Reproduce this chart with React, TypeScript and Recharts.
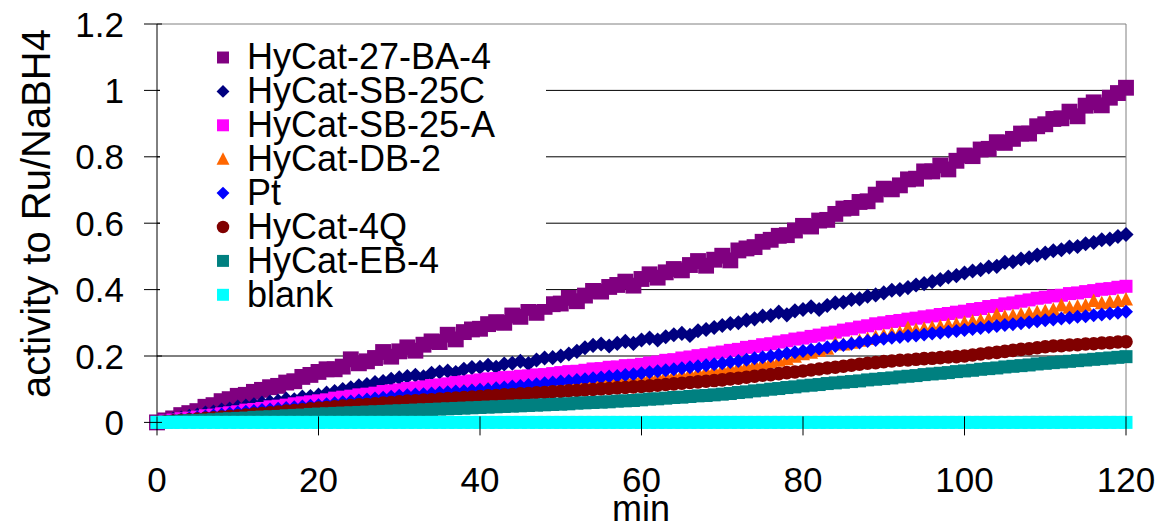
import React from 'react';
import { ScatterChart, Scatter, XAxis, YAxis, CartesianGrid, ReferenceLine } from 'recharts';

const minutes: number[] = Array.from({ length: 121 }, (_, i) => i);

const seriesNames = ['HyCat-27-BA-4', 'HyCat-SB-25C', 'HyCat-SB-25-A', 'HyCat-DB-2', 'Pt', 'HyCat-4Q', 'HyCat-EB-4', 'blank'];
const seriesColors = ['#800080', '#000080', '#FF00FF', '#FF6600', '#0000FF', '#800000', '#008080', '#00FFFF'];
const seriesMarkers = ['square', 'diamond', 'square', 'triangle', 'diamond', 'circle', 'square', 'square'];
const seriesMarkerScale = [1.22, 1.08, 1, 1, 1, 1, 1, 1];

const xTicks = [0, 20, 40, 60, 80, 100, 120];
const yTicks = [0, 0.2, 0.4, 0.6, 0.8, 1, 1.2];
const gridValues = [0.2, 0.4, 0.6, 0.8, 1];

const hyCat27BA4 = [
  0.000, 0.006, 0.012, 0.022, 0.028, 0.034, 0.047, 0.052, 0.064, 0.070,
  0.080, 0.083, 0.092, 0.098, 0.106, 0.110, 0.120, 0.124, 0.137, 0.143,
  0.152, 0.160, 0.160, 0.168, 0.190, 0.178, 0.184, 0.194, 0.212, 0.198,
  0.214, 0.226, 0.216, 0.234, 0.244, 0.242, 0.264, 0.250, 0.272, 0.280,
  0.282, 0.296, 0.302, 0.300, 0.322, 0.318, 0.345, 0.330, 0.348, 0.356,
  0.358, 0.375, 0.365, 0.382, 0.396, 0.394, 0.408, 0.414, 0.424, 0.412,
  0.432, 0.446, 0.436, 0.452, 0.462, 0.458, 0.474, 0.486, 0.472, 0.490,
  0.502, 0.488, 0.518, 0.524, 0.528, 0.544, 0.550, 0.562, 0.564, 0.578,
  0.592, 0.590, 0.608, 0.610, 0.628, 0.644, 0.646, 0.664, 0.666, 0.686,
  0.704, 0.702, 0.714, 0.732, 0.734, 0.756, 0.756, 0.774, 0.762, 0.788,
  0.804, 0.802, 0.822, 0.824, 0.844, 0.842, 0.854, 0.870, 0.870, 0.892,
  0.898, 0.914, 0.916, 0.936, 0.922, 0.954, 0.964, 0.955, 0.978, 0.992,
  1.008,
];

const hyCatSB25C = [
  0.000, 0.004, 0.009, 0.013, 0.018, 0.022, 0.028, 0.031, 0.037, 0.040,
  0.046, 0.049, 0.053, 0.058, 0.061, 0.064, 0.070, 0.068, 0.076, 0.078,
  0.082, 0.088, 0.093, 0.099, 0.104, 0.110, 0.114, 0.120, 0.123, 0.130,
  0.134, 0.138, 0.142, 0.137, 0.148, 0.152, 0.155, 0.150, 0.160, 0.165,
  0.166, 0.172, 0.166, 0.176, 0.178, 0.184, 0.177, 0.188, 0.194, 0.195,
  0.200, 0.206, 0.214, 0.225, 0.232, 0.236, 0.230, 0.238, 0.244, 0.238,
  0.248, 0.254, 0.248, 0.258, 0.264, 0.268, 0.262, 0.276, 0.280, 0.286,
  0.292, 0.298, 0.300, 0.308, 0.312, 0.320, 0.322, 0.332, 0.324, 0.336,
  0.340, 0.348, 0.340, 0.352, 0.360, 0.362, 0.370, 0.372, 0.380, 0.384,
  0.390, 0.398, 0.400, 0.406, 0.414, 0.418, 0.424, 0.430, 0.438, 0.442,
  0.450, 0.456, 0.460, 0.468, 0.470, 0.482, 0.484, 0.492, 0.496, 0.504,
  0.510, 0.517, 0.520, 0.528, 0.530, 0.538, 0.542, 0.550, 0.552, 0.560,
  0.566,
];

const hyCatSB25A = [
  0.000, 0.004, 0.007, 0.011, 0.013, 0.016, 0.020, 0.022, 0.026, 0.029,
  0.032, 0.037, 0.039, 0.042, 0.047, 0.049, 0.052, 0.056, 0.059, 0.062,
  0.065, 0.068, 0.073, 0.076, 0.079, 0.083, 0.085, 0.088, 0.093, 0.095,
  0.098, 0.102, 0.104, 0.107, 0.111, 0.113, 0.116, 0.120, 0.122, 0.125,
  0.128, 0.131, 0.132, 0.135, 0.136, 0.139, 0.140, 0.143, 0.144, 0.147,
  0.150, 0.153, 0.154, 0.157, 0.161, 0.162, 0.166, 0.167, 0.171, 0.172,
  0.175, 0.179, 0.182, 0.187, 0.189, 0.194, 0.197, 0.201, 0.204, 0.209,
  0.212, 0.217, 0.220, 0.226, 0.229, 0.234, 0.237, 0.242, 0.246, 0.251,
  0.254, 0.259, 0.263, 0.269, 0.272, 0.278, 0.282, 0.287, 0.291, 0.297,
  0.300, 0.304, 0.307, 0.311, 0.314, 0.318, 0.321, 0.325, 0.328, 0.332,
  0.335, 0.340, 0.343, 0.349, 0.352, 0.357, 0.360, 0.365, 0.369, 0.374,
  0.377, 0.381, 0.383, 0.388, 0.390, 0.394, 0.397, 0.401, 0.403, 0.407,
  0.410,
];

const hyCatDB2 = [
  0.000, 0.003, 0.006, 0.008, 0.011, 0.013, 0.016, 0.018, 0.021, 0.023,
  0.026, 0.028, 0.031, 0.033, 0.036, 0.038, 0.040, 0.043, 0.045, 0.047,
  0.049, 0.052, 0.055, 0.057, 0.060, 0.062, 0.065, 0.068, 0.070, 0.073,
  0.075, 0.078, 0.080, 0.082, 0.084, 0.087, 0.089, 0.091, 0.094, 0.096,
  0.098, 0.100, 0.102, 0.104, 0.106, 0.108, 0.110, 0.112, 0.114, 0.116,
  0.118, 0.120, 0.121, 0.123, 0.125, 0.127, 0.128, 0.130, 0.131, 0.133,
  0.135, 0.137, 0.139, 0.141, 0.143, 0.145, 0.148, 0.151, 0.154, 0.157,
  0.160, 0.164, 0.167, 0.171, 0.175, 0.178, 0.182, 0.186, 0.190, 0.198,
  0.205, 0.210, 0.216, 0.222, 0.238, 0.235, 0.240, 0.246, 0.251, 0.257,
  0.262, 0.266, 0.270, 0.284, 0.278, 0.282, 0.286, 0.289, 0.293, 0.296,
  0.300, 0.304, 0.307, 0.311, 0.324, 0.318, 0.321, 0.325, 0.328, 0.332,
  0.335, 0.339, 0.352, 0.345, 0.349, 0.352, 0.366, 0.359, 0.363, 0.366,
  0.370,
];

const pt = [
  0.000, 0.003, 0.006, 0.009, 0.012, 0.015, 0.018, 0.021, 0.024, 0.027,
  0.030, 0.032, 0.034, 0.037, 0.039, 0.041, 0.043, 0.046, 0.048, 0.050,
  0.052, 0.055, 0.058, 0.061, 0.063, 0.066, 0.069, 0.072, 0.074, 0.077,
  0.080, 0.082, 0.084, 0.085, 0.087, 0.089, 0.091, 0.093, 0.094, 0.096,
  0.098, 0.100, 0.103, 0.105, 0.108, 0.110, 0.113, 0.115, 0.118, 0.120,
  0.123, 0.125, 0.128, 0.130, 0.133, 0.135, 0.138, 0.140, 0.143, 0.145,
  0.148, 0.151, 0.154, 0.157, 0.160, 0.163, 0.166, 0.169, 0.172, 0.175,
  0.178, 0.182, 0.185, 0.189, 0.193, 0.196, 0.200, 0.204, 0.208, 0.211,
  0.215, 0.219, 0.222, 0.226, 0.230, 0.233, 0.237, 0.241, 0.245, 0.248,
  0.252, 0.255, 0.257, 0.260, 0.262, 0.265, 0.268, 0.270, 0.273, 0.275,
  0.278, 0.281, 0.284, 0.287, 0.290, 0.293, 0.296, 0.299, 0.302, 0.305,
  0.308, 0.310, 0.313, 0.315, 0.318, 0.320, 0.323, 0.325, 0.328, 0.330,
  0.333,
];

const hyCat4Q = [
  0.000, 0.002, 0.004, 0.006, 0.008, 0.010, 0.012, 0.014, 0.016, 0.018,
  0.020, 0.022, 0.025, 0.027, 0.029, 0.031, 0.034, 0.036, 0.038, 0.041,
  0.043, 0.045, 0.047, 0.049, 0.051, 0.053, 0.054, 0.056, 0.058, 0.060,
  0.062, 0.064, 0.065, 0.067, 0.068, 0.070, 0.072, 0.073, 0.075, 0.076,
  0.078, 0.080, 0.081, 0.083, 0.084, 0.086, 0.087, 0.089, 0.090, 0.092,
  0.093, 0.095, 0.096, 0.098, 0.099, 0.101, 0.102, 0.104, 0.105, 0.107,
  0.108, 0.110, 0.112, 0.114, 0.116, 0.118, 0.120, 0.122, 0.124, 0.126,
  0.128, 0.131, 0.133, 0.136, 0.139, 0.142, 0.144, 0.147, 0.150, 0.152,
  0.155, 0.158, 0.161, 0.164, 0.166, 0.169, 0.172, 0.175, 0.178, 0.180,
  0.183, 0.185, 0.187, 0.188, 0.190, 0.192, 0.193, 0.195, 0.197, 0.198,
  0.200, 0.203, 0.206, 0.209, 0.211, 0.214, 0.217, 0.220, 0.222, 0.225,
  0.228, 0.230, 0.231, 0.233, 0.234, 0.236, 0.237, 0.239, 0.240, 0.242,
  0.243,
];

const hyCatEB4 = [
  0.000, 0.001, 0.002, 0.004, 0.005, 0.006, 0.007, 0.008, 0.010, 0.011,
  0.012, 0.013, 0.015, 0.016, 0.017, 0.018, 0.020, 0.021, 0.022, 0.024,
  0.025, 0.026, 0.027, 0.028, 0.029, 0.030, 0.031, 0.032, 0.033, 0.034,
  0.035, 0.036, 0.037, 0.038, 0.039, 0.040, 0.041, 0.042, 0.043, 0.044,
  0.045, 0.046, 0.047, 0.048, 0.049, 0.050, 0.051, 0.052, 0.053, 0.054,
  0.055, 0.056, 0.058, 0.059, 0.060, 0.061, 0.062, 0.064, 0.065, 0.066,
  0.068, 0.070, 0.071, 0.073, 0.075, 0.076, 0.078, 0.080, 0.081, 0.083,
  0.085, 0.087, 0.090, 0.092, 0.095, 0.097, 0.100, 0.102, 0.105, 0.107,
  0.110, 0.112, 0.114, 0.117, 0.119, 0.121, 0.123, 0.125, 0.128, 0.130,
  0.132, 0.134, 0.137, 0.139, 0.141, 0.144, 0.146, 0.148, 0.150, 0.153,
  0.155, 0.157, 0.160, 0.162, 0.164, 0.167, 0.169, 0.171, 0.173, 0.176,
  0.178, 0.180, 0.182, 0.184, 0.186, 0.188, 0.190, 0.192, 0.194, 0.196,
  0.198,
];

const blank = [
  0, 0, 0, 0, 0, 0, 0, 0, 0, 0, 0, 0, 0, 0, 0, 0, 0, 0, 0, 0,
  0, 0, 0, 0, 0, 0, 0, 0, 0, 0, 0, 0, 0, 0, 0, 0, 0, 0, 0, 0,
  0, 0, 0, 0, 0, 0, 0, 0, 0, 0, 0, 0, 0, 0, 0, 0, 0, 0, 0, 0,
  0, 0, 0, 0, 0, 0, 0, 0, 0, 0, 0, 0, 0, 0, 0, 0, 0, 0, 0, 0,
  0, 0, 0, 0, 0, 0, 0, 0, 0, 0, 0, 0, 0, 0, 0, 0, 0, 0, 0, 0,
  0, 0, 0, 0, 0, 0, 0, 0, 0, 0, 0, 0, 0, 0, 0, 0, 0, 0, 0, 0,
  0,
];

const seriesValues = [hyCat27BA4, hyCatSB25C, hyCatSB25A, hyCatDB2, pt, hyCat4Q, hyCatEB4, blank];

const FONT = '"Liberation Sans", Arial, sans-serif';

function Marker({ kind, cx, cy, color, s = 1 }: { kind: string; cx: number; cy: number; color: string; s?: number }) {
  if (kind === 'square') {
    const h = 6.5 * s;
    return <rect x={cx - h} y={cy - h} width={2 * h} height={2 * h} fill={color} />;
  }
  if (kind === 'diamond') {
    const h = 7 * s;
    return <polygon points={`${cx},${cy - h} ${cx + h},${cy} ${cx},${cy + h} ${cx - h},${cy}`} fill={color} />;
  }
  if (kind === 'triangle') {
    return <polygon points={`${cx},${cy - 7.5 * s} ${cx + 7 * s},${cy + 6 * s} ${cx - 7 * s},${cy + 6 * s}`} fill={color} />;
  }
  return <circle cx={cx} cy={cy} r={6.8 * s} fill={color} />;
}

const makeShape = (kind: string, color: string, s: number) => (props: any) => {
  const { cx, cy } = props;
  if (cx == null || cy == null) return <g />;
  return <Marker kind={kind} cx={cx} cy={cy} color={color} s={s} />;
};

const YTick = (props: any) => {
  const { x, y, payload } = props;
  return (
    <g>
      <line x1={x - 13} x2={x + 5} y1={y} y2={y} stroke="#000" strokeWidth={1} />
      <text x={x - 33} y={y + 12.5} textAnchor="end" fontSize={35} fontFamily={FONT} fill="#000">
        {String(payload.value)}
      </text>
    </g>
  );
};

const XTick = (props: any) => {
  const { x, y, payload } = props;
  return (
    <g>
      <line x1={x} x2={x} y1={y - 6} y2={y + 13} stroke="#000" strokeWidth={1} />
      <text x={x} y={y + 69.5} textAnchor="middle" fontSize={35} fontFamily={FONT} fill="#000">
        {String(payload.value)}
      </text>
    </g>
  );
};

function LegendBox() {
  const top = 30;
  const left = 160;
  return (
    <div style={{ position: 'absolute', left, top, width: 386, height: 274, background: '#fff' }}>
      <svg width={386} height={290} style={{ overflow: 'visible', display: 'block' }}>
        {seriesNames.map((name, i) => {
          const cy = 57.5 - top + i * 33.9;
          return (
            <g key={name}>
              <Marker kind={seriesMarkers[i]} cx={223 - left} cy={cy} color={seriesColors[i]} s={0.92} />
              <text x={247 - left} y={cy + 11.7} fontSize={36} fontFamily={FONT} fill="#000">
                {name}
              </text>
            </g>
          );
        })}
      </svg>
    </div>
  );
}

export default function App() {
  const datasets = seriesValues.map((vals) => minutes.map((m, i) => ({ x: m, y: vals[i] })));
  return (
    <div style={{ position: 'absolute', left: 0, top: 0, width: 1160, height: 524, background: '#fff', overflow: 'hidden' }}>
      <ScatterChart width={1160} height={524} margin={{ top: 24, right: 34, left: 0, bottom: 0 }}>
        <CartesianGrid horizontal vertical={false} horizontalValues={gridValues} stroke="#000" strokeWidth={1} />
        <ReferenceLine y={1.2} stroke="#808080" strokeWidth={1} />
        <ReferenceLine x={120} stroke="#808080" strokeWidth={1} />
        <XAxis
          type="number"
          dataKey="x"
          domain={[0, 120]}
          ticks={xTicks}
          interval={0}
          height={101.6}
          tickSize={0}
          tickMargin={0}
          tickLine={false}
          axisLine={{ stroke: '#000' }}
          tick={<XTick />}
        />
        <YAxis
          type="number"
          dataKey="y"
          domain={[0, 1.2]}
          ticks={yTicks}
          interval={0}
          width={157}
          tickSize={0}
          tickMargin={0}
          tickLine={false}
          axisLine={{ stroke: '#000' }}
          tick={<YTick />}
        />
        {datasets.map((d, i) => (
          <Scatter
            key={seriesNames[i]}
            name={seriesNames[i]}
            data={d}
            fill={seriesColors[i]}
            shape={makeShape(seriesMarkers[i], seriesColors[i], seriesMarkerScale[i])}
            isAnimationActive={false}
          />
        ))}
      </ScatterChart>
      <LegendBox />
      <svg width={1160} height={524} style={{ position: 'absolute', left: 0, top: 0, pointerEvents: 'none' }}>
        <text
          x={50}
          y={213.5}
          transform="rotate(-90 50 213.5)"
          textAnchor="middle"
          fontSize={40}
          fontFamily={FONT}
          fill="#000"
        >
          activity to Ru/NaBH4
        </text>
        <text x={641} y={521} textAnchor="middle" fontSize={36} fontFamily={FONT} fill="#000">
          min
        </text>
      </svg>
    </div>
  );
}
